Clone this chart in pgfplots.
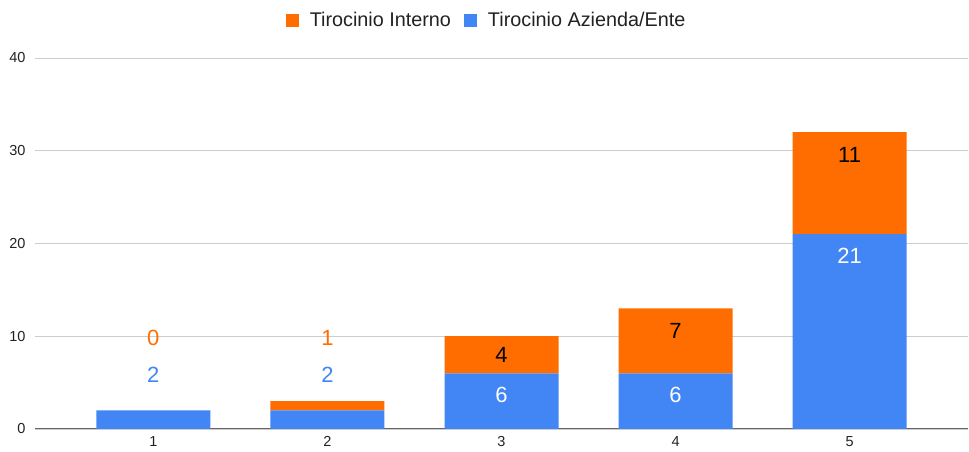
\documentclass[border=0pt]{standalone}
\usepackage{pgfplots}
\pgfplotsset{compat=1.18}
\usepackage{fontspec}
\setmainfont{Liberation Sans}
\definecolor{cblue}{HTML}{4285F4}
\definecolor{corange}{HTML}{FF6D01}
\definecolor{cgrid}{HTML}{CCCCCC}
\definecolor{ctext}{HTML}{222222}
\tikzset{dl/.style={font=\fontsize{22}{26}\selectfont}}
\begin{document}
\begin{tikzpicture}
\useasboundingbox (-35pt,-23pt) rectangle (934pt,429pt);
\begin{axis}[
  scale only axis,
  width=933pt, height=371pt,
  ybar stacked,
  bar width=114pt,
  xmin=0.32, xmax=5.68,
  ymin=0, ymax=40,
  xtick={1,2,3,4,5},
  ytick={0,10,20,30,40},
  extra y ticks={0},
  extra y tick labels={},
  extra y tick style={grid style={color=black!60, line width=1pt}},
  ymajorgrids,
  grid style={color=cgrid, line width=0.8pt},
  axis line style={draw=none},
  major tick length=0pt,
  /pgf/number format/assume math mode=true,
  tick label style={font=\fontsize{14.5}{16}\selectfont, text=ctext},
  yticklabel style={xshift=-6pt},
  xticklabel style={yshift=-4pt},
  legend style={at={(0.484,1.102)}, anchor=center, draw=none, legend columns=2,
    font=\fontsize{19.8}{22}\selectfont, text=ctext,
    /tikz/every odd column/.append style={column sep=9pt},
    /tikz/every even column/.append style={column sep=11pt}},
  reverse legend,
  legend image code/.code={\fill[#1] (0pt,-6.5pt) rectangle (13pt,6.5pt);},
]
\addplot[fill=cblue, draw=none] coordinates {(1,2) (2,2) (3,6) (4,6) (5,21)};
\addlegendentry{Tirocinio Azienda/Ente}
\addplot[fill=corange, draw=none] coordinates {(1,0) (2,1) (3,4) (4,7) (5,11)};
\addlegendentry{Tirocinio Interno}
\coordinate (a1) at (axis cs:1,5.82);
\coordinate (b1) at (axis cs:1,9.81);
\coordinate (a2) at (axis cs:2,5.82);
\coordinate (b2) at (axis cs:2,9.81);
\coordinate (a3) at (axis cs:3,3.67);
\coordinate (b3) at (axis cs:3,7.98);
\coordinate (a4) at (axis cs:4,3.67);
\coordinate (b4) at (axis cs:4,10.57);
\coordinate (a5) at (axis cs:5,18.65);
\coordinate (b5) at (axis cs:5,29.54);
\end{axis}
\node[dl, text=cblue] at (a1) {2};
\node[dl, text=corange] at (b1) {0};
\node[dl, text=cblue] at (a2) {2};
\node[dl, text=corange] at (b2) {1};
\node[dl, text=white] at (a3) {6};
\node[dl, text=black] at (b3) {4};
\node[dl, text=white] at (a4) {6};
\node[dl, text=black] at (b4) {7};
\node[dl, text=white] at (a5) {21};
\node[dl, text=black] at (b5) {11};
\end{tikzpicture}
\end{document}
